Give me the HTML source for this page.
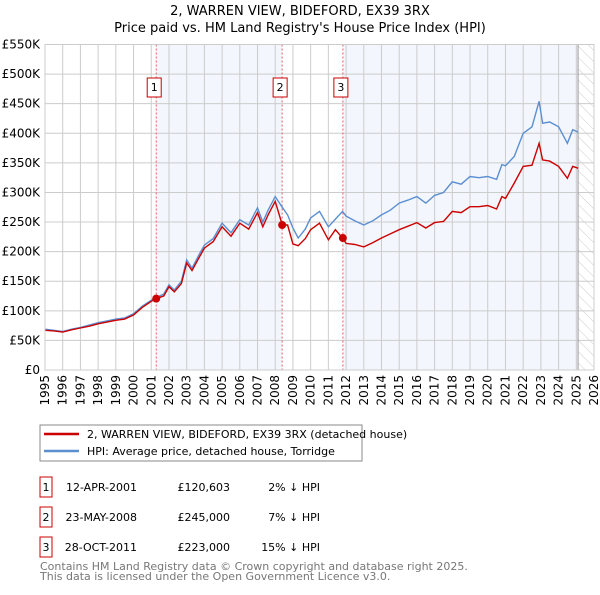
<!DOCTYPE html>
<html><head><meta charset="utf-8"><style>
body{margin:0;background:#fff;font-family:"Liberation Sans","DejaVu Sans",sans-serif}
svg text{font-family:"DejaVu Sans","Liberation Sans",sans-serif}
</style></head><body>
<svg id="c" width="600" height="590" xmlns="http://www.w3.org/2000/svg">
<defs><pattern id="hatch" width="8" height="8" patternUnits="userSpaceOnUse" patternTransform="rotate(-45)"><line x1="0" y1="0" x2="0" y2="8" stroke="#ccc" stroke-width="1"/></pattern></defs>
<text x="300" y="15" text-anchor="middle" font-size="13">2, WARREN VIEW, BIDEFORD, EX39 3RX</text>
<text x="300" y="32" text-anchor="middle" font-size="13">Price paid vs. HM Land Registry's House Price Index (HPI)</text>
<g id="plot"></g>
<rect x="40" y="425" width="322" height="36" fill="#fff" stroke="#888"/>
<line x1="44" y1="434" x2="79" y2="434" stroke="#cc0000" stroke-width="2.5"/>
<text x="87" y="438" font-size="11">2, WARREN VIEW, BIDEFORD, EX39 3RX (detached house)</text>
<line x1="44" y1="451" x2="79" y2="451" stroke="#5b8fd0" stroke-width="2.5"/>
<text x="87" y="455" font-size="11">HPI: Average price, detached house, Torridge</text>
<g id="table" font-size="11"></g>
<text x="40" y="570" font-size="11" fill="#777">Contains HM Land Registry data © Crown copyright and database right 2025.</text>
<text x="40" y="580" font-size="11" fill="#777">This data is licensed under the Open Government Licence v3.0.</text>
</svg>
<script>
const years=[1995,1995.5,1996,1996.5,1997,1997.5,1998,1998.5,1999,1999.5,2000,2000.5,2001,2001.3,2001.7,2002,2002.3,2002.7,2003,2003.3,2003.7,2004,2004.5,2005,2005.5,2006,2006.5,2007,2007.3,2007.6,2008,2008.4,2008.7,2009,2009.3,2009.7,2010,2010.5,2011,2011.4,2011.8,2012,2012.5,2013,2013.5,2014,2014.5,2015,2015.5,2016,2016.5,2017,2017.5,2018,2018.5,2019,2019.5,2020,2020.5,2020.8,2021,2021.5,2022,2022.5,2022.9,2023.1,2023.5,2024,2024.5,2024.8,2025.1];
const hpi=[69,67,65,69,72,76,80,83,86,88,95,108,118,123,128,144,135,150,186,172,195,211,222,248,232,254,245,274,250,270,293,275,262,240,223,238,257,268,242,255,268,260,252,245,252,262,270,282,287,293,282,295,300,318,314,327,325,327,322,347,345,361,400,411,454,417,419,411,383,406,402];
const price=[67,66,64,68,71,74,78,81,84,86,93,106,116,121,125,141,132,146,181,168,190,206,217,242,226,248,238,266,242,262,285,245,245,213,210,222,237,248,220,237,223,214,212,208,215,223,230,237,243,249,240,249,251,268,266,276,276,278,272,293,290,316,344,346,383,355,353,344,324,344,341];
const sales=[2001.28,2008.39,2011.82];
const salePrices=[120.603,245,223];
const saleLabels=["1","2","3"];
const saleDates=["12-APR-2001","23-MAY-2008","28-OCT-2011"];
const salePriceText=["£120,603","£245,000","£223,000"];
const saleHpi=["2% ↓ HPI","7% ↓ HPI","15% ↓ HPI"];
const yTicks=[0,50,100,150,200,250,300,350,400,450,500,550];
const yTickLabels=["£0","£50K","£100K","£150K","£200K","£250K","£300K","£350K","£400K","£450K","£500K","£550K"];
const xTicks=[1995,1996,1997,1998,1999,2000,2001,2002,2003,2004,2005,2006,2007,2008,2009,2010,2011,2012,2013,2014,2015,2016,2017,2018,2019,2020,2021,2022,2023,2024,2025,2026];

const L=45,R=594,T=44.5,B=370,x0=1995,x1=2026,ymax=550;
const X=v=>L+(v-x0)/(x1-x0)*(R-L);
const Y=v=>B-v/ymax*(B-T);
const NS="http://www.w3.org/2000/svg";
const g=document.getElementById('plot');
function mk(tag,attrs,parent){const e=document.createElementNS(NS,tag);for(const k in attrs)e.setAttribute(k,attrs[k]);(parent||g).appendChild(e);return e;}
let e;
e=mk('rect',{x:L,y:T,width:R-L,height:B-T,fill:'#fff'});


e=mk('rect',{x:X(sales[0]),y:T,width:X(sales[1])-X(sales[0]),height:B-T,fill:'#f3f6fd'});


e=mk('rect',{x:X(sales[2]),y:T,width:X(2025.1)-X(sales[2]),height:B-T,fill:'#f3f6fd'});


e=mk('rect',{x:X(2025.1),y:T,width:R-X(2025.1),height:B-T,fill:'url(#hatch)'});


xTicks.forEach(t=>{
 e=mk('line',{x1:X(t),x2:X(t),y1:T,y2:B,stroke:'#ccc','stroke-width':1});
 
 
 e=mk('text',{x:0,y:0,'font-size':12,'text-anchor':'end',transform:`translate(${X(t)+4},${B+5}) rotate(-90)`});
 e.textContent=t;
 
 
});
yTicks.forEach((t,i)=>{
 e=mk('line',{x1:L,x2:R,y1:Y(t),y2:Y(t),stroke:'#ccc','stroke-width':1});
 
 
 e=mk('text',{x:40,y:Y(t)+4,'font-size':12,'text-anchor':'end'});
 e.textContent=yTickLabels[i];
 
 
});
e=mk('line',{x1:X(2025.1),x2:X(2025.1),y1:T,y2:B,stroke:'#999','stroke-width':1});


sales.forEach((s,i)=>{
 e=mk('line',{x1:X(s),x2:X(s),y1:T,y2:B,stroke:'#e06060','stroke-width':1,'stroke-dasharray':'2,2'});
 
 
 e=mk('rect',{x:X(s)-9,y:78,width:14,height:19,fill:'#fff',stroke:'#cc0000'});
 
 
 e=mk('text',{x:X(s)-2,y:91,'font-size':11,'text-anchor':'middle'});
 e.textContent=saleLabels[i];
 
 
});
const path=vals=>vals.map((v,i)=>(i?'L':'M')+X(years[i]).toFixed(1)+','+Y(v).toFixed(1)).join('');
e=mk('path',{d:path(hpi),fill:'none',stroke:'#5b8fd0','stroke-width':1.4});


e=mk('path',{d:path(price),fill:'none',stroke:'#cc0000','stroke-width':1.4});


sales.forEach((s,i)=>{
 e=mk('circle',{cx:X(s),cy:Y(salePrices[i]),r:4,fill:'#cc0000'});
 
 
});
e=mk('rect',{x:L,y:T,width:R-L,height:B-T,fill:'none',stroke:'#ccc'});


const tb=document.getElementById('table');
const rowY=[487,517,547];
sales.forEach((s,i)=>{
 const y=rowY[i];
 e=mk('rect',{x:40,y:y-10,width:12,height:20,fill:'#fff',stroke:'#cc0000'},tb);
 
 
 e=mk('text',{x:46,y:y+4,'text-anchor':'middle'},tb);e.textContent=saleLabels[i];
 
 
 e=mk('text',{x:137,y:y+4,'text-anchor':'end'},tb);e.textContent=saleDates[i];
 
 
 e=mk('text',{x:230,y:y+4,'text-anchor':'end'},tb);e.textContent=salePriceText[i];
 
 
 e=mk('text',{x:320,y:y+4,'text-anchor':'end'},tb);e.textContent=saleHpi[i];
 
 
});
</script>
</body></html>
